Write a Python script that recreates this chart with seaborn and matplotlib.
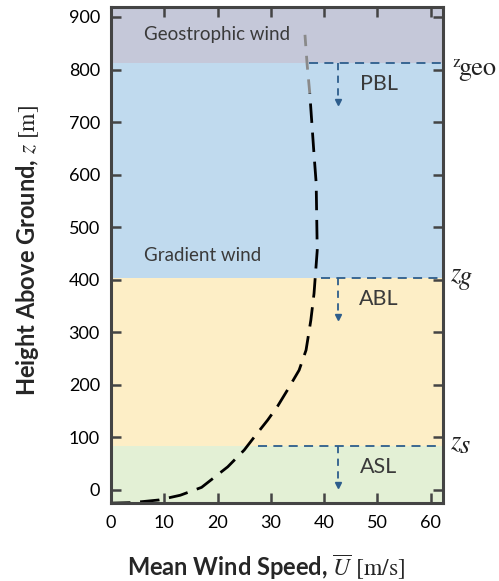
import matplotlib
matplotlib.use("Agg")
import matplotlib.pyplot as plt
import seaborn as sns

# Mean wind-speed profile (m/s) against height above ground (m)
speed = [0, 4, 9, 13, 17, 21.9, 25.0, 26.9, 29.4, 31.3, 33.1, 35.3, 36.6, 37.5, 38.1,
         38.7, 38.5, 38.1, 37.3]
height = [-25, -24, -19, -10, 5, 44, 76, 101, 133, 160, 190, 228, 266, 323, 374,
          456, 584, 638, 755]
# Faded continuation into the free atmosphere
speed_geo = [37.3, 36.8, 36.4]
height_geo = [755, 810, 866]

# Layer tops (m) and the profile speed where each marker line starts
layer_names = ["ASL", "ABL", "PBL"]
layer_tops = [84, 404, 813]
layer_start_speed = [27.6, 39.4, 37.2]
layer_colors = ["#e3f0d5", "#fdeec6", "#c0daee"]
geo_color = "#c5c8d9"

# Height tags at the right edge: main letter, subscript and their styling
tag_main = ["z", "z", "z"]
tag_sub = ["s", "g", "geo"]
tag_main_size = [19, 19, 12.5]
tag_main_style = ["italic", "italic", "normal"]
tag_main_off = [(0, -1.5), (0, -1.5), (1.5, -3.2)]
tag_sub_style = ["italic", "italic", "normal"]
tag_sub_off = [(7, -5), (6.5, -4.5), (6, -9.2)]

x_ticks = [0, 10, 20, 30, 40, 50, 60]
y_ticks = [0, 100, 200, 300, 400, 500, 600, 700, 800, 900]

sns.set_theme(style="ticks")
plt.rcParams["font.family"] = ["Lato", "DejaVu Sans"]
plt.rcParams["mathtext.fontset"] = "stix"

fig = plt.figure(figsize=(4.99, 5.81), dpi=100)
ax = fig.add_axes([0.2224, 0.1343, 0.6654, 0.8537])

xmin, xmax = 0, 62.3
ymin, ymax = -24.7, 919
ax.set_xlim(xmin, xmax)
ax.set_ylim(ymin, ymax)

# Coloured layer bands
bottoms = [ymin] + layer_tops[:-1]
for b, t, c in zip(bottoms, layer_tops, layer_colors):
    ax.axhspan(b, t, color=c, lw=0, zorder=0)
ax.axhspan(layer_tops[-1], ymax, color=geo_color, lw=0, zorder=0)

# Layer boundary markers with downward arrows
line_blue = "#2d5d8c"
arrow_x = 42.6
for i, (name, top, xs) in enumerate(zip(layer_names, layer_tops, layer_start_speed)):
    ax.plot([xs, xmax], [top, top], color=line_blue, lw=1.3, dashes=(5, 3.5), zorder=2)
    ax.plot([arrow_x, arrow_x], [top, top - 72], color=line_blue, lw=1.3,
            dashes=(4, 3), zorder=2)
    ax.plot([arrow_x], [top - 74], marker="v", color=line_blue, ms=4.5, zorder=2)
    ax.text(50.3, top - 40, name, ha="center", va="center", fontsize=15.5,
            color="#3a3a3a", zorder=3)
    ax.annotate(tag_main[i], xy=(63.6, top), xytext=tag_main_off[i],
                textcoords="offset points", ha="left", va="baseline",
                fontsize=tag_main_size[i], fontstyle=tag_main_style[i],
                family="STIXGeneral", color="#222222", annotation_clip=False)
    ax.annotate(tag_sub[i], xy=(63.6, top), xytext=tag_sub_off[i],
                textcoords="offset points", ha="left", va="baseline", fontsize=19,
                fontstyle=tag_sub_style[i], family="STIXGeneral", color="#222222",
                annotation_clip=False)

ax.text(6.2, 866, "Geostrophic wind", ha="left", va="center", fontsize=13.5,
        color="#3a3a3a")
ax.text(6.2, 446, "Gradient wind", ha="left", va="center", fontsize=13.5,
        color="#3a3a3a")

# Wind profile (points drawn in height order, no aggregation)
sns.lineplot(x=speed, y=height, sort=False, estimator=None, color="black", lw=2.0,
             ax=ax, zorder=4)
ax.lines[-1].set_dashes([7, 3.5])
sns.lineplot(x=speed_geo, y=height_geo, sort=False, estimator=None, color="#8a8a8a",
             lw=2.0, ax=ax, zorder=4)
ax.lines[-1].set_dashes([5, 3.5])

ax.set_xticks(x_ticks)
ax.set_yticks(y_ticks)
ax.tick_params(direction="in", length=7, width=1.8, color="#444444",
               top=True, right=True, labelsize=13, labelcolor="black")
ax.tick_params(axis="x", pad=9)
ax.tick_params(axis="y", pad=8)
for s in ax.spines.values():
    s.set_linewidth(2.2)
    s.set_color("#444444")
    s.set_zorder(5)

ax.set_xlabel(r"Mean Wind Speed, $\overline{U}\ \mathrm{[m/s]}$", fontsize=17,
              fontweight="bold")
ax.set_ylabel(r"Height Above Ground, $z\ \mathrm{[m]}$", fontsize=17,
              fontweight="bold")
ax.xaxis.set_label_coords(0.467, -0.10)
ax.yaxis.set_label_coords(-0.212, 0.51)

fig.savefig("out.png", dpi=100)
